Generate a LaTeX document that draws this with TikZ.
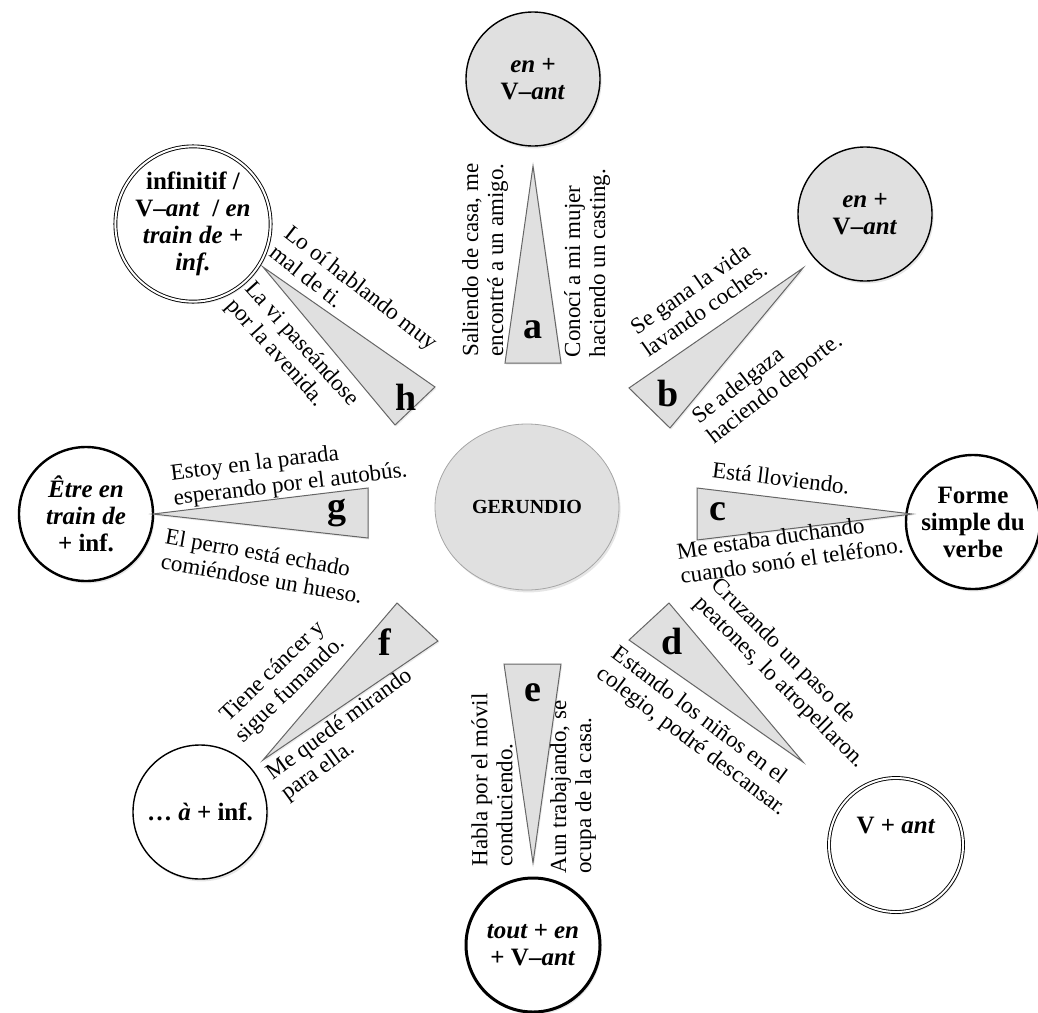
\documentclass[tikz,border=0pt]{standalone}
\usepackage{fontspec}
\setmainfont{Liberation Serif}
\usetikzlibrary{shapes.geometric,shadows}
\definecolor{lightgrey}{gray}{0.88}
\definecolor{edgegrey}{gray}{0.4}
\tikzset{
  ring/.style={circle, draw=black, minimum size=67pt, align=center,
    font=\fontsize{12.5}{13.5}\selectfont\bfseries,
    drop shadow={opacity=0.2, shadow xshift=0.8pt, shadow yshift=-1.2pt}},
  greyring/.style={ring, fill=lightgrey, line width=0.7pt},
  boldring/.style={ring, fill=white, line width=1.2pt},
  thinring/.style={ring, fill=white, line width=0.7pt},
  dblring/.style={ring, fill=white, double, double distance=1pt, line width=0.45pt},
  wedge/.style={fill=lightgrey, draw=edgegrey, line width=0.5pt,
    drop shadow={opacity=0.15, shadow xshift=0.6pt, shadow yshift=-0.8pt}},
  letter/.style={font=\fontsize{19}{19}\selectfont\bfseries},
  ex/.style={align=center, font=\fontsize{11.5}{12.5}\selectfont}
}
\begin{document}
\begin{tikzpicture}[x=0.5pt,y=-0.5pt,every node/.style={inner sep=0pt}]
\useasboundingbox (0,0) rectangle (1038,1012);

\node[ellipse, fill=lightgrey, draw=gray!70, minimum width=92pt, minimum height=83pt,
  font=\fontsize{10}{12}\selectfont\bfseries,
  drop shadow={opacity=0.2, shadow xshift=0.8pt, shadow yshift=-1.2pt}] (ger) at (527,507) {GERUNDIO};

\node[greyring] (cira) at (533,79) {\textit{en +}\\V--\textit{ant}};
\node[greyring] (cirb) at (865,214) {\textit{en +}\\V--\textit{ant}};
\node[boldring] (circ) at (973,522) {Forme\\simple du\\verbe};
\node[dblring] (cird) at (896,845) {V + \textit{ant}\\[6pt]};
\node[boldring, line width=1.5pt] (cire) at (533,945) {\textit{tout + en}\\+ V--\textit{ant}};
\node[thinring] (cirf) at (200,812) {\dots{} \textit{à} + inf.};
\node[boldring] (cirg) at (86,514) {\textit{Être en}\\\textit{train de}\\+ inf.};
\node[dblring, minimum size=76pt] (cirh) at (193,224) {infinitif /\\V--\textit{ant}~~/ \textit{en}\\\textit{train de +}\\\textit{inf.}};

\coordinate (a1) at (505,363); \coordinate (a2) at (561,363); \coordinate (a3) at (533,166);
\coordinate (b1) at (629,388); \coordinate (b2) at (670,428); \coordinate (b3) at (803,268);
\coordinate (c1) at (697,488); \coordinate (c2) at (697,540); \coordinate (c3) at (912,514);
\coordinate (d1) at (669,603); \coordinate (d2) at (629,640); \coordinate (d3) at (803,762);
\coordinate (e1) at (504,664); \coordinate (e2) at (561,664); \coordinate (e3) at (533,863);
\coordinate (f1) at (397,603); \coordinate (f2) at (438,641); \coordinate (f3) at (263,760);
\coordinate (g1) at (368,488); \coordinate (g2) at (368,538); \coordinate (g3) at (153,514);
\coordinate (h1) at (435,387); \coordinate (h2) at (395,425); \coordinate (h3) at (263,267);

\draw[wedge] (a1) -- (a2) -- (a3) -- cycle;
\draw[wedge] (b1) -- (b2) -- (b3) -- cycle;
\draw[wedge] (c1) -- (c2) -- (c3) -- cycle;
\draw[wedge] (d1) -- (d2) -- (d3) -- cycle;
\draw[wedge] (e1) -- (e2) -- (e3) -- cycle;
\draw[wedge] (f1) -- (f2) -- (f3) -- cycle;
\draw[wedge] (g1) -- (g2) -- (g3) -- cycle;
\draw[wedge] (h1) -- (h2) -- (h3) -- cycle;

\node[letter] (la) at (533,330) {a};
\node[letter] (lb) at (668,393) {b};
\node[letter] (lc) at (718,512) {c};
\node[letter] (ld) at (672,641) {d};
\node[letter] (le) at (533,693) {e};
\node[letter] (lf) at (385,642) {f};
\node[letter] (lg) at (337,513) {g};
\node[letter] (lh) at (406,397) {h};

\node[ex, rotate=90] (ta1) at (485,260) {Saliendo de casa, me\\encontré a un amigo.};
\node[ex, rotate=90, align=left] (ta2) at (587,263) {Conocí a mi mujer\\haciendo un casting.};
\node[ex, rotate=35] (tb1) at (697,299) {Se gana la vida\\lavando coches.};
\node[ex, rotate=38, align=left] (tb2) at (768,380) {Se adelgaza\\haciendo deporte.};
\node[ex, rotate=-7] (tc1) at (781,478) {Está lloviendo.};
\node[ex, rotate=8, align=left] (tc2) at (790,548) {Me estaba duchando\\cuando sonó el teléfono.};
\node[ex, rotate=-45, align=left] (td1) at (788,674) {Cruzando un paso de\\peatones, lo atropellaron.};
\node[ex, rotate=-37, align=left] (td2) at (699,732) {Estando los niños en el\\colegio, podré descansar.};
\node[ex, rotate=90, align=left] (te1) at (492,780) {Habla por el móvil\\conduciendo.};
\node[ex, rotate=90, align=left] (te2) at (573,787) {Aun trabajando, se\\ocupa de la casa.};
\node[ex, rotate=44] (tf1) at (282,681) {Tiene cáncer y\\sigue fumando.};
\node[ex, rotate=36, align=left] (tf2) at (347,735) {Me quedé mirando\\para ella.};
\node[ex, rotate=7, align=left] (tg1) at (289,473) {Estoy en la parada\\esperando por el autobús.};
\node[ex, rotate=-10, align=left] (tg2) at (264,566) {El perro está echado\\comiéndose un hueso.};
\node[ex, rotate=-38, align=left] (th1) at (354,297) {Lo oí hablando muy\\mal de ti.};
\node[ex, rotate=-48, align=left] (th2) at (292,353) {La vi paseándose\\por la avenida.};
\end{tikzpicture}
\end{document}
